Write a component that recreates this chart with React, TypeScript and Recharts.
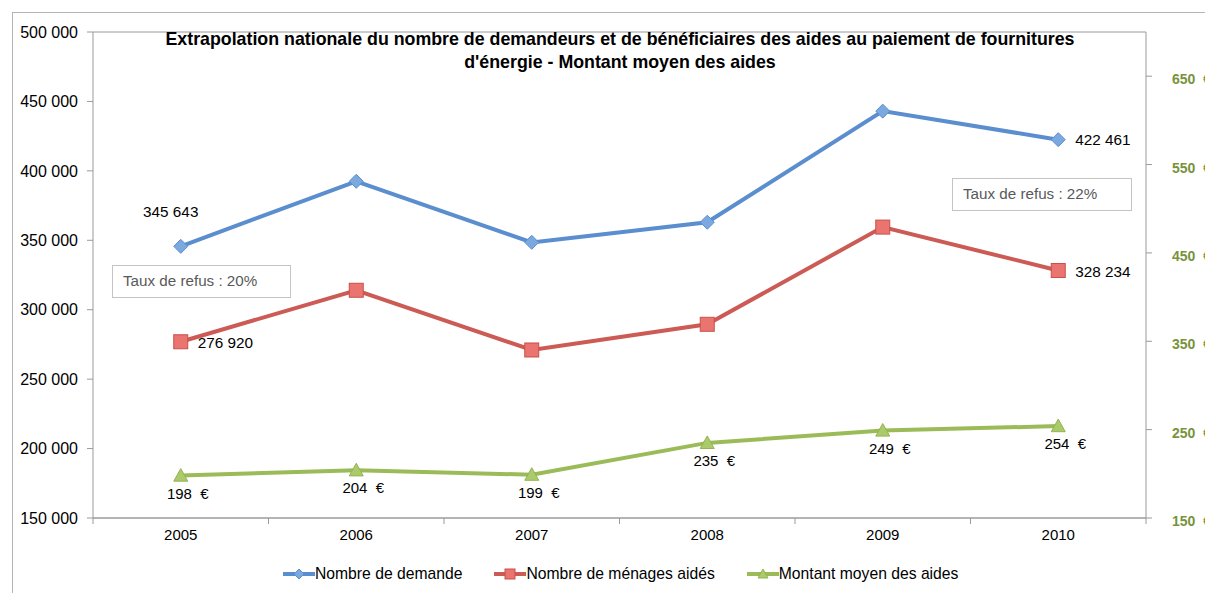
import React from 'react';
import { LineChart, Line, XAxis, YAxis, CartesianGrid } from 'recharts';

const years = ['2005', '2006', '2007', '2008', '2009', '2010'];
const demandes = [345643, 392500, 348500, 363000, 443000, 422461];
const menages = [276920, 314000, 271000, 289500, 359500, 328234];
const montants = [198, 204, 199, 235, 249, 254];

const leftTicks = [150000, 200000, 250000, 300000, 350000, 400000, 450000, 500000];
const rightTicks = [150, 250, 350, 450, 550, 650];

const BLUE = '#5A8ECE';
const RED = '#CC5A55';
const GREEN = '#9BBB59';
const AXIS = '#9a9a9a';
const FONT = '"Liberation Sans", Arial, sans-serif';

const data = years.map((y, i) => ({
  year: y,
  demande: demandes[i],
  menages: menages[i],
  montant: montants[i],
}));

const fmtSpace = (v: number) => v.toLocaleString('en-US').replace(/,/g, ' ');

const Diamond = ({ cx, cy, size = 7 }: any) => (
  <path
    d={`M${cx},${cy - size} L${cx + size},${cy} L${cx},${cy + size} L${cx - size},${cy} Z`}
    fill="#7CA8E0"
    stroke="#5A8ECE"
    strokeWidth={1}
  />
);

const Square = ({ cx, cy, size = 7 }: any) => (
  <rect x={cx - size} y={cy - size} width={size * 2} height={size * 2} fill="#EA7470" stroke="#C9504B" strokeWidth={1} />
);

const Triangle = ({ cx, cy, size = 7 }: any) => (
  <path
    d={`M${cx},${cy - size} L${cx + size},${cy + size * 0.8} L${cx - size},${cy + size * 0.8} Z`}
    fill="#AACA6C"
    stroke="#94B452"
    strokeWidth={1}
  />
);

// only first and last points carry a label on the two left-axis series
const blueLabel = (props: any) => {
  const { x, y, index, value } = props;
  if (index === 0)
    return (
      <text x={x - 10} y={y - 29} textAnchor="middle" fontSize={15.3} fontFamily={FONT} fill="#000">
        {fmtSpace(value)}
      </text>
    );
  if (index === years.length - 1)
    return (
      <text x={x + 17} y={y + 5} fontSize={15.3} fontFamily={FONT} fill="#000">
        {fmtSpace(value)}
      </text>
    );
  return null;
};

const redLabel = (props: any) => {
  const { x, y, index, value } = props;
  if (index === 0 || index === years.length - 1)
    return (
      <text x={x + 17} y={y + 6} fontSize={15.3} fontFamily={FONT} fill="#000">
        {fmtSpace(value)}
      </text>
    );
  return null;
};

const greenLabel = (props: any) => {
  const { x, y, value } = props;
  return (
    <text x={x + 7} y={y + 23} textAnchor="middle" fontSize={15} fontFamily={FONT} fill="#000" style={{ whiteSpace: 'pre' }}>
      {`${value}  €`}
    </text>
  );
};

const XTick = (props: any) => {
  const { x, y, payload, index } = props;
  const half = payload.offset || 87.75;
  return (
    <g>
      <line x1={x - half} y1={y - 8} x2={x - half} y2={y - 2} stroke={AXIS} />
      {index === years.length - 1 && <line x1={x + half} y1={y - 8} x2={x + half} y2={y - 2} stroke={AXIS} />}
      <text x={x} y={y + 14} textAnchor="middle" fontSize={15} fontFamily={FONT} fill="#000">
        {payload.value}
      </text>
    </g>
  );
};

const RightTick = (props: any) => {
  const { x, y, payload } = props;
  return (
    <text x={x + 18} y={y + 8} fontSize={14} fontFamily={FONT} fontWeight="bold" fill="#77933C" style={{ whiteSpace: 'pre' }}>
      {`${payload.value}  €`}
    </text>
  );
};

const legendItems = [
  { name: 'Nombre de demande', color: BLUE, Shape: Diamond },
  { name: 'Nombre de ménages aidés', color: RED, Shape: Square },
  { name: 'Montant moyen des aides', color: GREEN, Shape: Triangle },
];

const noteStyle: React.CSSProperties = {
  position: 'absolute',
  border: '1px solid #c4c4c4',
  background: '#fff',
  color: '#595959',
  fontSize: 15.2,
  fontFamily: FONT,
  padding: '6px 10px',
  boxSizing: 'border-box',
  whiteSpace: 'nowrap',
};

export default function App() {
  return (
    <div style={{ position: 'relative', width: 1205, height: 585, overflow: 'hidden', background: '#fff' }}>
      <div style={{ position: 'absolute', left: 4, top: 4, width: 1400, height: 800, border: '1px solid #b5b5b5' }} />
      <LineChart
        width={1205}
        height={585}
        data={data}
        margin={{ top: 24, right: 0, bottom: 45, left: 0 }}
        style={{ position: 'absolute', left: 0, top: 0 }}
      >
        <CartesianGrid vertical={false} stroke={AXIS} strokeWidth={1} />
        <XAxis
          dataKey="year"
          scale="band"
          axisLine={{ stroke: AXIS }}
          tickLine={false}
          tick={<XTick />}
          height={30}
        />
        <YAxis
          yAxisId="left"
          domain={[150000, 500000]}
          ticks={leftTicks}
          tickFormatter={fmtSpace}
          width={85}
          axisLine={{ stroke: AXIS }}
          tickLine={{ stroke: AXIS }}
          tickSize={6}
          tickMargin={9}
          tick={{ fontSize: 16, fontFamily: FONT, fill: '#000' }}
          allowDataOverflow
        />
        <YAxis
          yAxisId="right"
          orientation="right"
          domain={[150, 700]}
          ticks={rightTicks}
          width={67}
          axisLine={{ stroke: AXIS }}
          tickLine={{ stroke: AXIS }}
          tickSize={6}
          tick={<RightTick />}
          allowDataOverflow
        />
        <Line
          yAxisId="left"
          dataKey="demande"
          stroke={BLUE}
          strokeWidth={4}
          dot={<Diamond />}
          activeDot={false}
          label={blueLabel}
          isAnimationActive={false}
        />
        <Line
          yAxisId="left"
          dataKey="menages"
          stroke={RED}
          strokeWidth={4}
          dot={<Square />}
          activeDot={false}
          label={redLabel}
          isAnimationActive={false}
        />
        <Line
          yAxisId="right"
          dataKey="montant"
          stroke={GREEN}
          strokeWidth={4}
          dot={<Triangle />}
          activeDot={false}
          label={greenLabel}
          isAnimationActive={false}
        />
      </LineChart>

      <div
        style={{
          position: 'absolute',
          left: 72,
          top: 20,
          width: 1080,
          textAlign: 'center',
          fontFamily: FONT,
          fontWeight: 'bold',
          fontSize: 17.8,
          lineHeight: '23px',
          color: '#000',
        }}
      >
        Extrapolation nationale du nombre de demandeurs et de bénéficiaires des aides au paiement de fournitures
        <br />
        d'énergie - Montant moyen des aides
      </div>

      <div style={{ ...noteStyle, left: 104, top: 257, width: 179, height: 33 }}>Taux de refus : 20%</div>
      <div style={{ ...noteStyle, left: 944, top: 170, width: 180, height: 33 }}>Taux de refus : 22%</div>

      <div style={{ position: 'absolute', left: 275, top: 556, display: 'flex', fontFamily: FONT, fontSize: 15.7 }}>
        {legendItems.map((it) => (
          <div key={it.name} style={{ display: 'flex', alignItems: 'center', marginRight: 32 }}>
            <svg width={32} height={20}>
              <line x1={0} y1={10} x2={32} y2={10} stroke={it.color} strokeWidth={4} />
              <it.Shape cx={16} cy={10} size={5} />
            </svg>
            <span>{it.name}</span>
          </div>
        ))}
      </div>
    </div>
  );
}
